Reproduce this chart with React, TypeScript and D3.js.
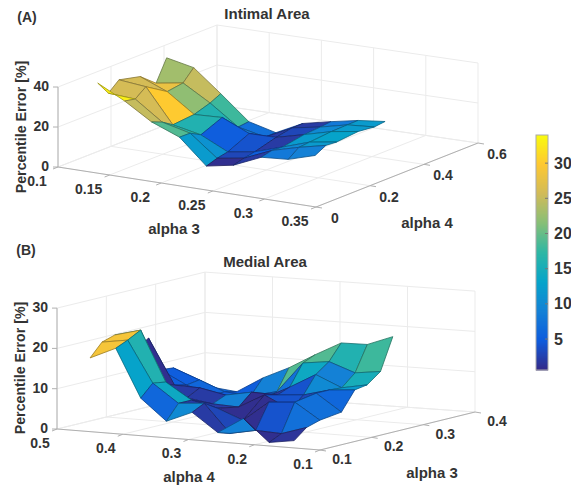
import React, { useEffect, useRef } from "react";
import * as d3 from "d3";

// Panel A: Intimal Area
const intimalAlpha3 = [0.1, 0.126, 0.152, 0.179, 0.205, 0.231, 0.258, 0.284, 0.31];
const intimalAlpha4 = [0.15, 0.19, 0.23, 0.31, 0.37, 0.41];
const intimalError = [
  [34.2, 27.3, 18.9, 13.4, 1, 3.5, 9.6, 10.6, 14.6],
  [27.1, 26.2, 16.7, 13.3, 2.8, 4.9, 10.9, 14.5, 17.5],
  [31.7, 30.3, 13.3, 10.4, 3.9, 6, 10.5, 15, 17.1],
  [29.2, 23.7, 14.3, 14.9, 8.9, 9, 12.5, 16, 18.1],
  [22.8, 24.9, 16.9, 7, 4, 10.6, 13.1, 16.2, 17.2],
  [33.4, 30.5, 19.5, 7.6, 4.1, 10.7, 13.7, 16.3, 17.8],
];
// colour value of each face, read separately (faces take one corner's value)
const intimalFaceColor = [
  [33, 25, 19, 12, 1, 2, 8, 9],
  [26, 26, 17, 11, 3, 5, 10, 12],
  [26, 30, 16, 5, 4, 2, 12, 13],
  [28, 22, 16, 8, 2, 3, 10, 12],
  [23, 25, 18, 7, 5, 2, 8, 12],
];

// Panel B: Medial Area
const medialAlpha4 = [0.461, 0.422, 0.384, 0.345, 0.306, 0.267, 0.228, 0.189, 0.151];
const medialAlpha3 = [0.115, 0.139, 0.165, 0.207, 0.233, 0.257, 0.283, 0.307];
const medialError = [
  [17.7, 20.6, 8.7, 3.5, 6.2, 1.7, 5.7, 0.25, 1.2],
  [20.9, 21.9, 11.7, 7.2, 7.7, 0.75, 2, 1.7, 3.7],
  [21.9, 23.6, 11.2, 7.2, 5.7, 3.2, 8.2, 8.7, 4.7],
  [16.9, 8.7, 6, 5, 4.7, 8.2, 5, 9.6, 5.4],
  [19.1, 7.9, 7.7, 6.4, 7.6, 7.4, 7.9, 9.6, 10.1],
  [10.5, 7.2, 5.2, 4.5, 5.4, 8.6, 12.2, 9.4, 10.6],
  [10.2, 7.7, 5.2, 4.7, 6.2, 13.8, 14.6, 12.3, 13.1],
  [7.5, 5.2, 4.5, 8.4, 11.4, 15.1, 18.5, 18.6, 21],
];
const medialFaceColor = [
  [29, 13, 6, 10, 2, 9, 1, 1.5],
  [29, 16, 14, 2, 3, 1, 4, 7],
  [13, 13, 2, 2, 1, 1, 3, 7],
  [1, 2, 2, 9, 1, 4, 3, 6],
  [5, 3, 3, 3, 2, 4, 10, 12],
  [5, 6, 5, 5, 7, 14, 9, 15],
  [5, 6, 5, 9, 19, 19, 16, 18],
];

const intimalXTicks = [0.1, 0.15, 0.2, 0.25, 0.3, 0.35];
const intimalYTicks = [0, 0.2, 0.4, 0.6];
const intimalZTicks = [0, 20, 40];
const medialXTicks = [0.5, 0.4, 0.3, 0.2, 0.1];
const medialYTicks = [0.1, 0.2, 0.3, 0.4];
const medialZTicks = [0, 10, 20, 30];
const colorbarTicks = [5, 10, 15, 20, 25, 30];

const parulaStops = ["#352a87", "#0f5cdd", "#1481d6", "#06a4ca", "#2eb7a4", "#87bf77", "#d1bb59", "#fec832", "#f9fb0e"];
const colorMin = 0.6;
const colorMax = 34;
const color = d3
  .scaleLinear<string>()
  .domain(parulaStops.map((_, i) => colorMin + ((colorMax - colorMin) * i) / (parulaStops.length - 1)))
  .range(parulaStops)
  .interpolate(d3.interpolateRgb);

const FONT = "'Liberation Sans', Arial, sans-serif";
const TEXT = "#333";
const GRID = "#ebebeb";
const AXIS = "#b0b0b0";

type Pt = [number, number];

function drawPanel(root: any, o: any) {
  const { L, F, R, B, zPx } = o;
  const ux = d3.scaleLinear().domain(o.xDomain).range([0, 1]);
  const vy = d3.scaleLinear().domain(o.yDomain).range([0, 1]);
  const zs = d3.scaleLinear().domain([0, o.zTop]).range([0, o.zTop * zPx]);

  const project = (x: number, y: number, z: number): Pt => {
    const u = ux(x);
    const v = vy(y);
    const a = (1 - u) * (1 - v);
    const b = u * (1 - v);
    const c = u * v;
    const d = (1 - u) * v;
    return [L[0] * a + F[0] * b + R[0] * c + B[0] * d, L[1] * a + F[1] * b + R[1] * c + B[1] * d - zs(z)];
  };

  const [x0, x1] = o.xDomain;
  const [y0, y1] = o.yDomain;
  const g = root.append("g");
  const line = d3.line();
  const seg = (p: Pt[], stroke: string, w = 1) =>
    g.append("path").attr("d", line(p)).attr("fill", "none").attr("stroke", stroke).attr("stroke-width", w);

  // back walls and floor grid
  o.xTicks.forEach((t: number) => {
    seg([project(t, y0, 0), project(t, y1, 0), project(t, y1, o.zTop)], GRID);
  });
  o.yTicks.forEach((t: number) => {
    seg([project(x1, t, 0), project(x0, t, 0), project(x0, t, o.zTop)], GRID);
  });
  o.zTicks.forEach((t: number) => {
    seg([project(x0, y0, t), project(x0, y1, t), project(x1, y1, t)], GRID);
  });

  // axes
  seg([project(x0, y0, o.zTop), project(x0, y0, 0), project(x1, y0, 0), project(x1, y1, 0)], AXIS);
  o.xTicks.forEach((t: number) => {
    const p = project(t, y0, 0);
    seg([p, [p[0] - 5, p[1] + 2]], AXIS);
    label(g, p[0] + o.xLabelOffset[0], p[1] + o.xLabelOffset[1], d3.format("")(t), "middle");
  });
  o.yTicks.forEach((t: number) => {
    const p = project(x1, t, 0);
    seg([p, [p[0] + 6, p[1] + 1]], AXIS);
    label(g, p[0] + o.yLabelOffset[0], p[1] + o.yLabelOffset[1], d3.format("")(t), "middle");
  });
  o.zTicks.forEach((t: number) => {
    const p = project(x0, y0, t);
    seg([p, [p[0] - 5, p[1]]], AXIS);
    label(g, p[0] - 9, p[1] - 1, String(t), "end");
  });

  // surface faces, far ones first
  const faces: { pts: Pt[]; depth: number; value: number }[] = [];
  for (let j = 0; j < o.ys.length - 1; j++) {
    for (let i = 0; i < o.xs.length - 1; i++) {
      const pts: Pt[] = [
        project(o.xs[i], o.ys[j], o.err[j][i]),
        project(o.xs[i + 1], o.ys[j], o.err[j][i + 1]),
        project(o.xs[i + 1], o.ys[j + 1], o.err[j + 1][i + 1]),
        project(o.xs[i], o.ys[j + 1], o.err[j + 1][i]),
      ];
      const depth = project((o.xs[i] + o.xs[i + 1]) / 2, (o.ys[j] + o.ys[j + 1]) / 2, 0)[1];
      faces.push({ pts, depth, value: o.faceColor[j][i] });
    }
  }
  faces.sort((a, b) => d3.ascending(a.depth, b.depth));
  g.selectAll("path.face")
    .data(faces)
    .enter()
    .append("path")
    .attr("class", "face")
    .attr("d", (d: any) => line(d.pts) + "Z")
    .attr("fill", (d: any) => color(d.value))
    .attr("stroke", (d: any) => d3.color(color(d.value))!.darker(1.3).formatHex())
    .attr("stroke-width", 0.8)
    .attr("stroke-linejoin", "round");

  // titles
  label(g, o.title[0], o.title[1], o.title[2], "middle", 15);
  label(g, o.panel[0], o.panel[1], o.panel[2], "middle", 14);
  label(g, o.xName[0], o.xName[1], o.xName[2], "middle", 15);
  label(g, o.yName[0], o.yName[1], o.yName[2], "middle", 15);
  label(g, 0, 0, "Percentile Error [%]", "middle", 14.2).attr(
    "transform",
    `translate(${o.zName[0]},${o.zName[1]}) rotate(-90)`
  );
}

function label(g: any, x: number, y: number, text: string, anchor: string, size = 14) {
  return g
    .append("text")
    .attr("x", x)
    .attr("y", y)
    .attr("dy", "0.35em")
    .attr("text-anchor", anchor)
    .attr("font-family", FONT)
    .attr("font-weight", "bold")
    .attr("font-size", size)
    .attr("fill", TEXT)
    .text(text);
}

export default function App() {
  const ref = useRef<SVGSVGElement>(null);
  useEffect(() => {
    const svg = d3.select(ref.current);
    svg.selectAll("*").remove();

    drawPanel(svg, {
      L: [58, 167], F: [316, 207], R: [478, 143], B: [217, 105], zPx: 2,
      xDomain: [0.1, 0.35], yDomain: [0, 0.6], zTop: 40,
      xs: intimalAlpha3, ys: intimalAlpha4, err: intimalError, faceColor: intimalFaceColor,
      xTicks: intimalXTicks, yTicks: intimalYTicks, zTicks: intimalZTicks,
      xLabelOffset: [-21, 14], yLabelOffset: [19, 11],
      title: [267, 14, "Intimal Area"], panel: [27, 17, "(A)"],
      xName: [174, 229, "alpha 3"], yName: [427, 223, "alpha 4"], zName: [21, 127],
    });

    drawPanel(svg, {
      L: [57, 429], F: [320, 450], R: [475, 412], B: [205, 393], zPx: 4.03,
      xDomain: [0.5, 0.1], yDomain: [0.1, 0.4], zTop: 30,
      xs: medialAlpha4, ys: medialAlpha3, err: medialError, faceColor: medialFaceColor,
      xTicks: medialXTicks, yTicks: medialYTicks, zTicks: medialZTicks,
      xLabelOffset: [-17, 14], yLabelOffset: [22, 9],
      title: [265, 262, "Medial Area"], panel: [26, 250, "(B)"],
      xName: [189, 477, "alpha 4"], yName: [432, 473, "alpha 3"], zName: [20, 368],
    });

    // colorbar
    const barY = d3.scaleLinear().domain([colorMin, colorMax]).range([370, 135]);
    const bar = svg.append("g");
    bar
      .selectAll("rect")
      .data(d3.range(colorMin, colorMax, (colorMax - colorMin) / 235))
      .enter()
      .append("rect")
      .attr("x", 536)
      .attr("width", 12)
      .attr("y", (d) => barY(d) - 1)
      .attr("height", 1.5)
      .attr("fill", (d) => color(d));
    bar
      .append("rect")
      .attr("x", 536)
      .attr("y", 135)
      .attr("width", 12)
      .attr("height", 235)
      .attr("fill", "none")
      .attr("stroke", "#aaa");
    colorbarTicks.forEach((t) => {
      bar
        .append("line")
        .attr("x1", 545)
        .attr("x2", 548)
        .attr("y1", barY(t))
        .attr("y2", barY(t))
        .attr("stroke", "#777");
      label(bar, 554, barY(t), String(t), "start", 16);
    });
  }, []);

  return (
    <svg
      ref={ref}
      width={571}
      height={486}
      style={{ position: "absolute", left: 0, top: 0, background: "#fff" }}
    />
  );
}
